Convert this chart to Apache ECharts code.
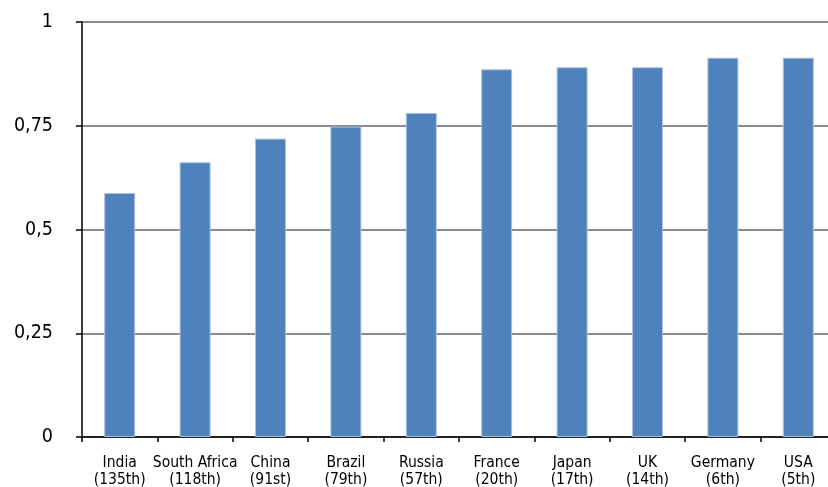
<!DOCTYPE html>
<html>
<head>
<meta charset="utf-8">
<script src="https://cdn.jsdelivr.net/npm/echarts@6/dist/echarts.min.js"></script>
<style>
html,body{margin:0;padding:0;background:#fff;}
#c{width:828px;height:487px;}
</style>
</head>
<body>
<div id="c"></div>
<script>
const categories = ['India\n(135th)','South Africa\n(118th)','China\n(91st)','Brazil\n(79th)','Russia\n(57th)','France\n(20th)','Japan\n(17th)','UK\n(14th)','Germany\n(6th)','USA\n(5th)'];
const values = [0.588, 0.662, 0.719, 0.748, 0.781, 0.886, 0.891, 0.891, 0.914, 0.914];
const yTicks = [0, 0.25, 0.5, 0.75, 1];
const yTickLabels = ['0', '0,25', '0,5', '0,75', '1'];

const FONT = "'DejaVu Sans Condensed', 'Liberation Sans Narrow', sans-serif";
const chart = echarts.init(document.getElementById('c'), null, {renderer:'canvas'});
chart.setOption({
  animation: false,
  grid: {left: 82, width: 754, top: 22, bottom: 50, containLabel: false, outerBoundsMode: 'none'},
  xAxis: {
    type: 'category',
    data: categories,
    axisLine: {lineStyle: {color: '#000', width: 1.5}},
    axisTick: {show: true, length: 5, lineStyle: {color: '#000', width: 1.5}},
    axisLabel: {color: '#000', fontFamily: FONT, fontSize: 15.5, lineHeight: 17, margin: 17, interval: 0}
  },
  yAxis: {
    type: 'value',
    min: 0, max: 1, interval: 0.25,
    axisLine: {show: true, lineStyle: {color: '#000', width: 1.5}},
    axisTick: {show: true, length: 6, lineStyle: {color: '#000', width: 1.5}},
    splitLine: {show: true, lineStyle: {color: '#8a8a8a', width: 2}},
    axisLabel: {
      color: '#000', fontFamily: FONT, fontSize: 19.5, margin: 29,
      formatter: function (v) { const i = yTicks.indexOf(v); return i >= 0 ? yTickLabels[i] : ''; }
    }
  },
  series: [{
    type: 'bar',
    data: values,
    barWidth: 31,
    itemStyle: {color: '#4F81BD', borderColor: '#A9C2E0', borderWidth: 1}
  }]
});
</script>
</body>
</html>
